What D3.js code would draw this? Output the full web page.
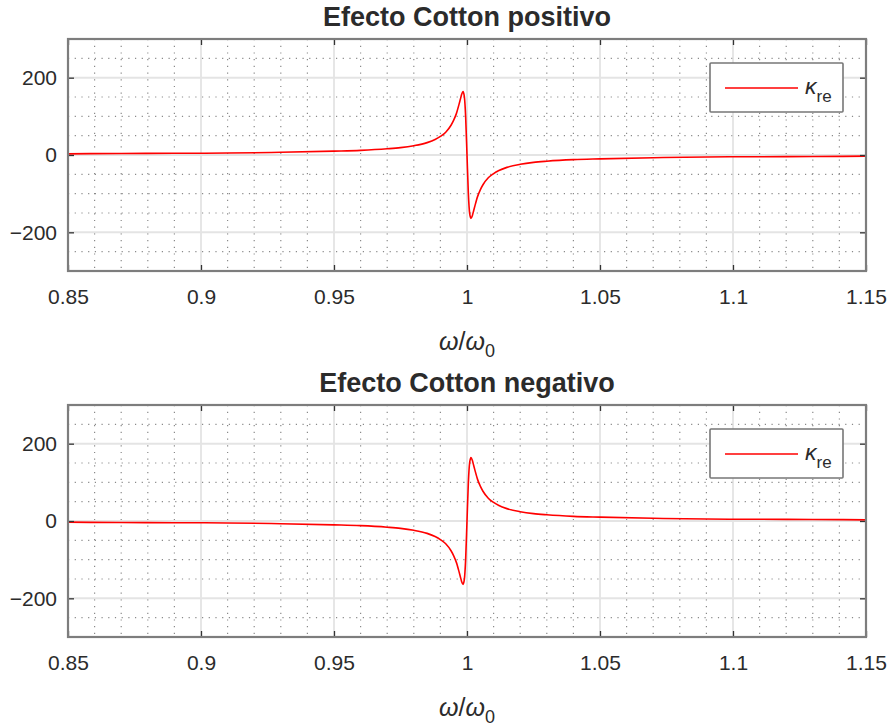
<!DOCTYPE html>
<html>
<head>
<meta charset="utf-8">
<title>Efecto Cotton</title>
<script src="https://cdn.jsdelivr.net/npm/d3@7"></script>
<style>
  body { margin: 0; background: #fff; }
  svg text { font-family: "Liberation Sans", Arial, Helvetica, sans-serif; fill: #2b2b2b; }
  .title { font-weight: bold; font-size: 27px; }
  .tick text { font-size: 21px; }
</style>
</head>
<body>
<svg id="chart" width="892" height="727"></svg>
<script>
// frequency ratio w/w0
var omega = [0.85, 0.87, 0.89, 0.91, 0.93, 0.95, 0.96, 0.97, 0.975, 0.98, 0.985, 0.988,
  0.99, 0.992, 0.994, 0.995, 0.996, 0.997, 0.9975, 0.998, 0.9985, 0.999, 0.9995, 1.0,
  1.0005, 1.001, 1.0015, 1.002, 1.0025, 1.003, 1.004, 1.005, 1.006, 1.008, 1.01, 1.012,
  1.015, 1.02, 1.025, 1.03, 1.04, 1.05, 1.07, 1.09, 1.11, 1.13, 1.15];

// kappa_re, positive Cotton effect
var kappaPos = [3, 4, 4.5, 5, 7, 10, 12, 16, 19, 24, 32, 40,
  48, 59, 77, 90, 107, 131, 144, 157, 164, 151, 98, 0,
  -98, -151, -164, -157, -144, -131, -107, -90, -77, -59, -48, -40,
  -32, -24, -19, -16, -12, -10, -7, -5, -4.5, -4, -3];

// kappa_re, negative Cotton effect
var kappaNeg = [-3, -4, -4.5, -5, -7, -10, -12, -16, -19, -24, -32, -40,
  -48, -59, -77, -90, -107, -131, -144, -157, -164, -151, -98, 0,
  98, 151, 164, 157, 144, 131, 107, 90, 77, 59, 48, 40,
  32, 24, 19, 16, 12, 10, 7, 5, 4.5, 4, 3];

var xTicks = [0.85, 0.9, 0.95, 1, 1.05, 1.1, 1.15];
var yTicks = [-200, 0, 200];
var titles = ["Efecto Cotton positivo", "Efecto Cotton negativo"];

var svg = d3.select("#chart");
var left = 68, right = 866, plotH = 232;
var tops = [39, 405];

var x = d3.scaleLinear().domain([0.85, 1.15]).range([left, right]);

function drawPanel(top, values, title) {
  var y = d3.scaleLinear().domain([-300, 300]).range([top + plotH, top]);
  var g = svg.append("g");

  // minor grid (dotted)
  var xMinor = d3.range(0.85, 1.1501, 0.01).filter(function(v) {
    return Math.abs(Math.round(v * 20) - v * 20) > 1e-6;
  });
  var yMinor = d3.range(-250, 300, 50).filter(function(v) { return v % 200 !== 0; });
  g.selectAll(".mx").data(xMinor).enter().append("line")
    .attr("x1", function(d) { return x(d); }).attr("x2", function(d) { return x(d); })
    .attr("y1", top).attr("y2", top + plotH)
    .attr("stroke", "#8a8a8a").attr("stroke-width", 1.2).attr("stroke-dasharray", "1.2,5.5");
  g.selectAll(".my").data(yMinor).enter().append("line")
    .attr("x1", left).attr("x2", right)
    .attr("y1", function(d) { return y(d); }).attr("y2", function(d) { return y(d); })
    .attr("stroke", "#8a8a8a").attr("stroke-width", 1.2).attr("stroke-dasharray", "1.2,5.5");

  // major grid
  g.selectAll(".gx").data(xTicks.slice(1, -1)).enter().append("line")
    .attr("x1", function(d) { return x(d); }).attr("x2", function(d) { return x(d); })
    .attr("y1", top).attr("y2", top + plotH)
    .attr("stroke", "#d6d6d6").attr("stroke-width", 1.2);
  g.selectAll(".gy").data(yTicks).enter().append("line")
    .attr("x1", left).attr("x2", right)
    .attr("y1", function(d) { return y(d); }).attr("y2", function(d) { return y(d); })
    .attr("stroke", "#e4e4e4").attr("stroke-width", 2);

  // curve
  var line = d3.line()
    .x(function(d, i) { return x(omega[i]); })
    .y(function(d) { return y(d); })
    .curve(d3.curveMonotoneX);
  g.append("path").datum(values)
    .attr("d", line)
    .attr("fill", "none").attr("stroke", "#ff0000").attr("stroke-width", 1.6);

  // axes
  var xAxis = g.append("g").attr("class", "axis")
    .attr("transform", "translate(0," + (top + plotH) + ")")
    .call(d3.axisBottom(x).tickValues(xTicks).tickSize(-6).tickPadding(14)
      .tickFormat(function(d) { return d3.format("")(d); }));
  var yAxis = g.append("g").attr("class", "axis")
    .attr("transform", "translate(" + left + ",0)")
    .call(d3.axisLeft(y).tickValues(yTicks).tickSize(-6).tickPadding(11));
  var xTop = g.append("g")
    .attr("transform", "translate(0," + top + ")")
    .call(d3.axisTop(x).tickValues(xTicks).tickSize(-6).tickFormat(""));
  var yRight = g.append("g")
    .attr("transform", "translate(" + right + ",0)")
    .call(d3.axisRight(y).tickValues(yTicks).tickSize(-6).tickFormat(""));
  [xAxis, yAxis, xTop, yRight].forEach(function(a) {
    a.select(".domain").remove();
    a.selectAll(".tick line").attr("stroke", "#333").attr("stroke-width", 1.3);
  });
  xAxis.selectAll(".tick text").attr("dy", "0.9em");

  // box
  g.append("rect")
    .attr("x", left).attr("y", top).attr("width", right - left).attr("height", plotH)
    .attr("fill", "none").attr("stroke", "#7d7d7d").attr("stroke-width", 2.2);

  // title
  g.append("text").attr("class", "title")
    .attr("x", (left + right) / 2).attr("y", top - 13)
    .attr("text-anchor", "middle").text(title);

  // x label
  var xl = g.append("text")
    .attr("x", (left + right) / 2).attr("y", top + plotH + 79)
    .attr("text-anchor", "middle").style("font-size", "25px");
  xl.append("tspan").style("font-style", "italic").text("\u03C9");
  xl.append("tspan").text("/");
  xl.append("tspan").style("font-style", "italic").text("\u03C9");
  xl.append("tspan").attr("dy", 7).style("font-size", "18px").text("0");

  // legend
  var lg = g.append("g").attr("transform", "translate(710," + (top + 24) + ")");
  lg.append("rect").attr("width", 133).attr("height", 49)
    .attr("fill", "#fff").attr("stroke", "#777").attr("stroke-width", 1.6).attr("rx", 1);
  lg.append("line").attr("x1", 15).attr("x2", 88).attr("y1", 25).attr("y2", 25)
    .attr("stroke", "#ff0000").attr("stroke-width", 1.6);
  var lt = lg.append("text").attr("x", 95).attr("y", 31).style("font-size", "23px");
  lt.append("tspan").style("font-style", "italic").text("\u03BA");
  lt.append("tspan").attr("dy", 8).style("font-size", "17px").text("re");
}

drawPanel(tops[0], kappaPos, titles[0]);
drawPanel(tops[1], kappaNeg, titles[1]);
</script>
</body>
</html>
